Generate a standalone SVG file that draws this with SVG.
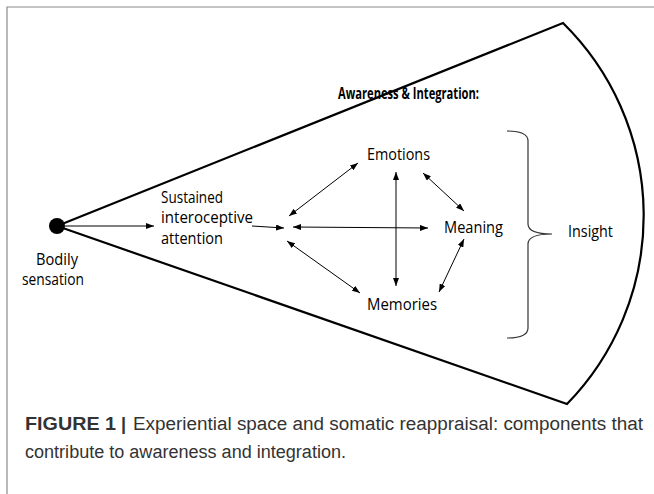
<svg xmlns="http://www.w3.org/2000/svg" width="654" height="494" viewBox="0 0 654 494">
<defs>
<marker id="ah" viewBox="0 0 8 6" refX="8" refY="3" markerWidth="8" markerHeight="6" markerUnits="userSpaceOnUse" orient="auto-start-reverse">
<path d="M0,0 L8,3 L0,6 z" fill="#000"/>
</marker>
<style>
.lbl{font-family:"Open Sans","Liberation Sans",sans-serif;font-size:15.5px;fill:#000}
.bold{font-weight:bold}
.con{stroke:#000;stroke-width:1;fill:none}
.cap{font-family:"Liberation Sans",Arial,sans-serif;font-size:18px;fill:#333}
</style>
</defs>
<rect width="654" height="494" fill="#fff"/>
<path d="M7,494 L7,7 L654,7" fill="none" stroke="#8a8a8a" stroke-width="1.2"/>
<g id="fan">
<path d="M57,226 L563,23 A270,270 0 0 1 567,404 Z" fill="none" stroke="#000" stroke-width="2.2" stroke-linejoin="miter"/>
<text class="lbl bold" x="338" y="99" textLength="141" lengthAdjust="spacingAndGlyphs">Awareness &amp; Integration:</text>
</g>
<g id="bodily">
<circle cx="57" cy="226" r="8" fill="#000"/>
<text class="lbl" x="36" y="265" textLength="42" lengthAdjust="spacingAndGlyphs">Bodily</text>
<text class="lbl" x="22" y="285" textLength="62" lengthAdjust="spacingAndGlyphs">sensation</text>
</g>
<g id="attention">
<text class="lbl" x="161" y="203" textLength="62" lengthAdjust="spacingAndGlyphs">Sustained</text>
<text class="lbl" x="161" y="223" textLength="92" lengthAdjust="spacingAndGlyphs">interoceptive</text>
<text class="lbl" x="161" y="244" textLength="62" lengthAdjust="spacingAndGlyphs">attention</text>
</g>
<g id="emotions"><text class="lbl" x="367" y="160" textLength="63" lengthAdjust="spacingAndGlyphs">Emotions</text></g>
<g id="meaning"><text class="lbl" x="444" y="233" textLength="59" lengthAdjust="spacingAndGlyphs">Meaning</text></g>
<g id="memories"><text class="lbl" x="367" y="310" textLength="70" lengthAdjust="spacingAndGlyphs">Memories</text></g>
<g id="insight">
<path d="M507,131 Q528,131 528,141 L528,224 Q528,234 552,234 Q528,234 528,244 L528,328 Q528,338 507,338" fill="none" stroke="#333" stroke-width="1.2"/>
<text class="lbl" x="568" y="237" textLength="45" lengthAdjust="spacingAndGlyphs">Insight</text>
</g>
<g id="connectors">
<line class="con" x1="65" y1="226" x2="154" y2="226" marker-end="url(#ah)"/>
<line class="con" x1="252" y1="226" x2="284" y2="228" stroke="#444" marker-end="url(#ah)"/>
<line class="con" x1="289" y1="216" x2="358" y2="163" marker-start="url(#ah)" marker-end="url(#ah)"/>
<line class="con" x1="293" y1="227" x2="428" y2="228" marker-start="url(#ah)" marker-end="url(#ah)"/>
<line class="con" x1="287" y1="241" x2="360" y2="293" marker-start="url(#ah)" marker-end="url(#ah)"/>
<line class="con" x1="396" y1="172" x2="396" y2="286" marker-start="url(#ah)" marker-end="url(#ah)"/>
<line class="con" x1="423" y1="173" x2="464" y2="211" marker-start="url(#ah)" marker-end="url(#ah)"/>
<line class="con" x1="464" y1="239" x2="439" y2="292" marker-start="url(#ah)" marker-end="url(#ah)"/>
</g>
<g id="caption">
<text class="cap" x="25" y="430" font-weight="bold" fill="#000" textLength="91" lengthAdjust="spacingAndGlyphs">FIGURE 1</text>
<text class="cap" x="121" y="430" font-weight="bold">|</text>
<text class="cap" x="133" y="430" textLength="510" lengthAdjust="spacingAndGlyphs">Experiential space and somatic reappraisal: components that</text>
<text class="cap" x="25" y="458" textLength="321" lengthAdjust="spacingAndGlyphs">contribute to awareness and integration.</text>
</g>
</svg>
